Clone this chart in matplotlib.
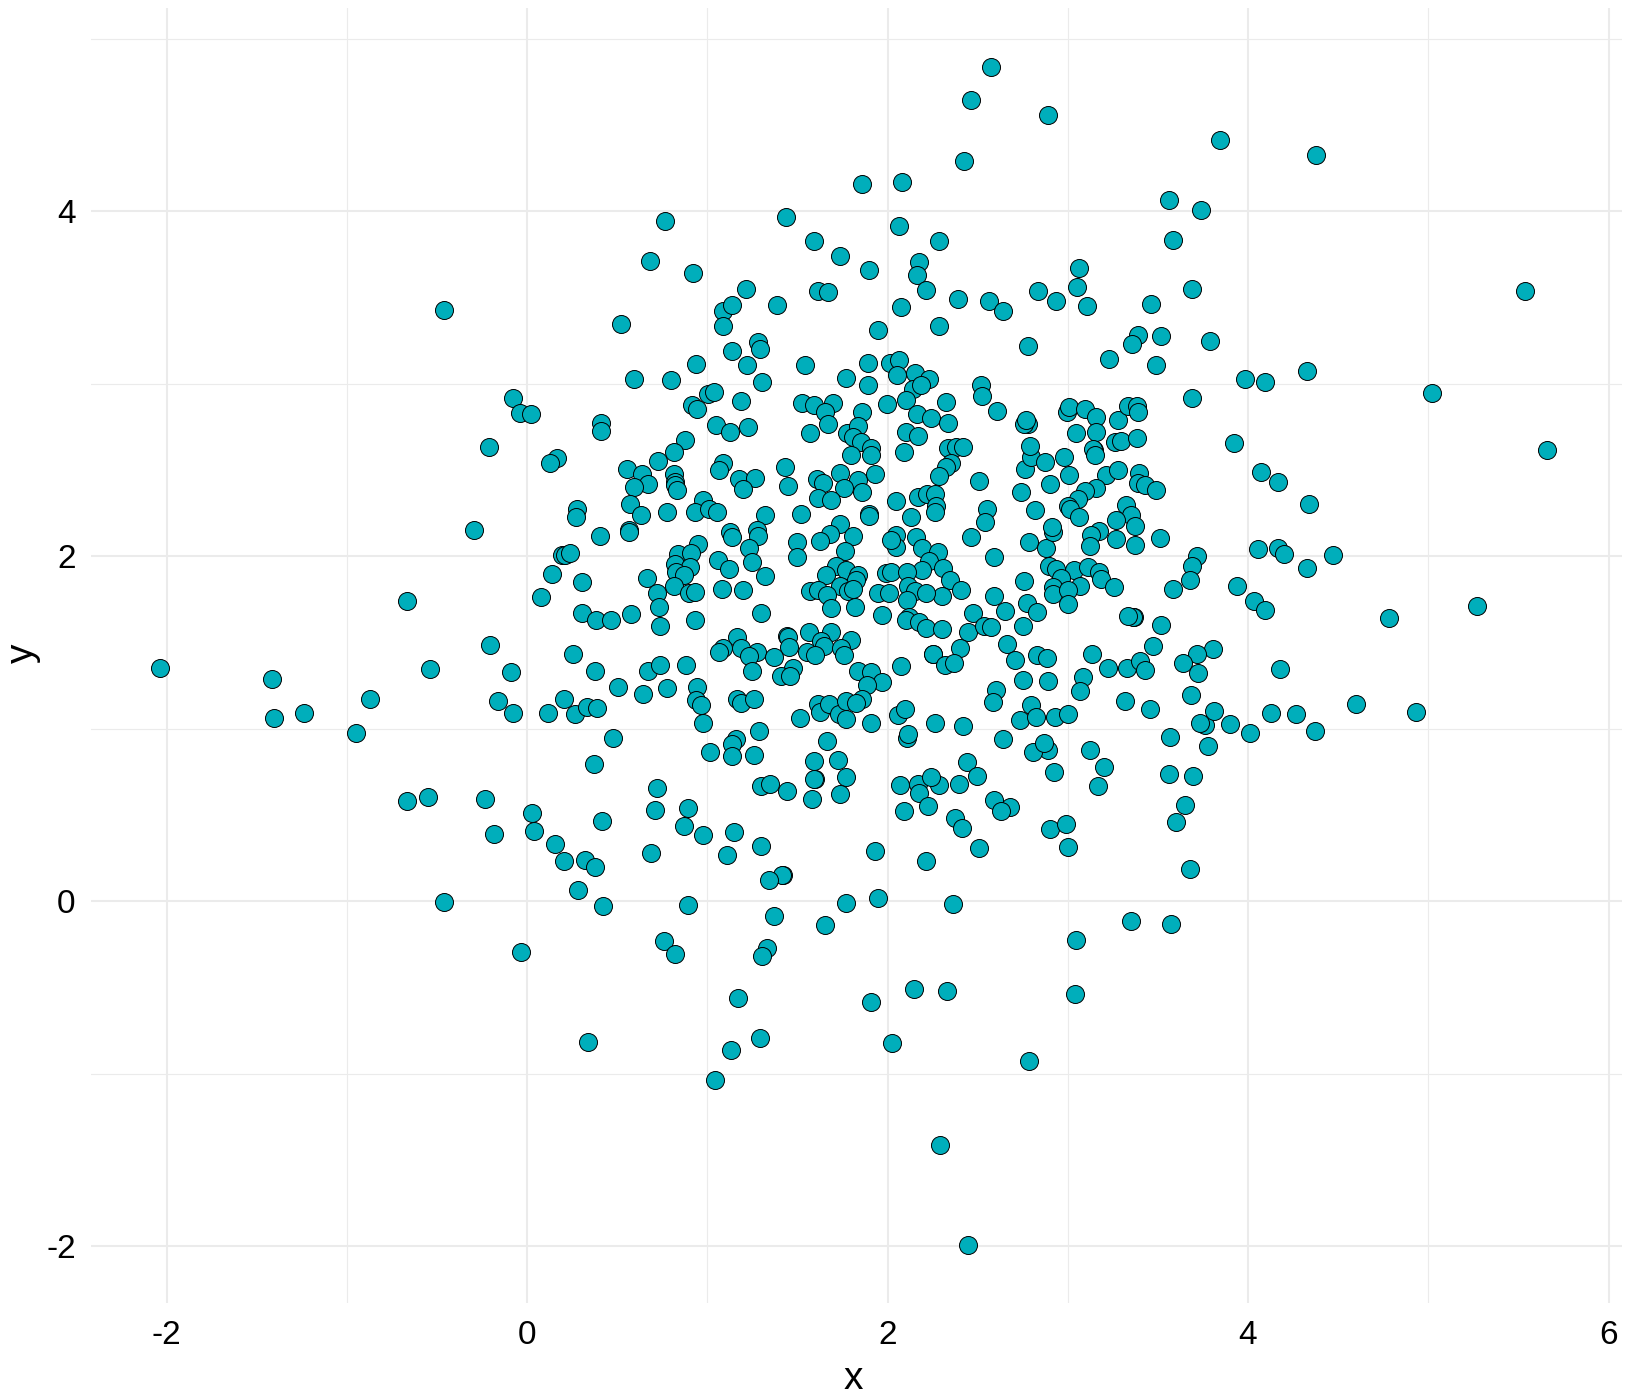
import matplotlib
matplotlib.use("Agg")
import matplotlib.pyplot as plt

# values, row by row in the same order for both lists
x_values = [
    0.52, 1.085, 1.135, 1.085, 1.385, 1.945, 1.28, 1.295, 1.14, 1.22,
    0.935, 1.545, 1.89, 2.015, 2.065, 0.595, 0.80, 1.305, 1.77, 1.89,
    2.055, -0.08, -0.04, 0.02, 1.005, 1.04, 0.915, 0.945, 1.185, 1.525,
    1.59, 1.695, 1.655, 1.86, 1.995, 0.41, 0.41, 1.05, 1.125, 1.225,
    1.67, 1.57, 1.775, 1.835, 1.81, 1.855, 1.91, 1.80, 1.91, 0.875,
    0.815, 0.725, 0.165, 0.13, 0.553, 0.638, 0.67, 0.595, 0.813, 0.82,
    0.822, 0.832, 1.085, 1.067, 1.177, 1.264, 1.20, 1.434, 1.45, 1.61,
    1.64, 1.734, 1.834, 1.933, 1.76, 1.858, 1.615, 1.684, 2.046, 0.57,
    0.63, 0.775, 0.275, 0.27, 0.974, 0.93, 1.01, 1.052, 1.323, 1.518,
    1.895, 1.90, 1.275, 1.28, 1.124, 1.135, 1.23, 0.564, 0.564, 0.403,
    1.734, 1.682, 1.628, 1.808, 1.762, 2.046, 2.046, 1.50, 1.50, 0.192,
    0.212, 0.237, 0.946, 0.84, 0.908, 0.819, 0.906, 0.826, 0.872, 1.057,
    1.118, 1.246, 1.323, 0.137, 0.303, 0.08, 0.664, 0.813, 0.719, 0.73,
    0.90, 0.932, 1.08, 1.20, 0.303, 0.384, 0.464, 0.575, 0.736, 0.93,
    1.30, 1.713, 1.657, 1.767, 1.834, 1.825, 1.736, 1.78, 1.811, 1.57,
    1.612, 1.667, 1.689, 1.817, 1.967, 1.95, 2.006, 1.99, 2.02, 1.44,
    1.45, 1.562, 1.684, 1.80, 1.63, 1.649, 1.455, 1.163, 1.09, 1.19,
    1.067, 1.275, 1.555, 1.60, 1.74, 0.253, 1.233, 1.368, 1.761, 1.246,
    1.475, 1.407, 1.457, 1.834, 1.906, 1.967, 1.885, -0.09, 0.375, 0.669,
    0.736, 0.88, 0.503, 0.641, 0.775, 0.941, 0.937, 0.963, 0.974, 0.205,
    -0.08, 0.115, 0.268, 0.331, 0.386, 1.163, 1.19, 1.26, 1.514, 1.617,
    1.627, 1.673, 1.732, 1.767, 1.769, 1.856, 1.823, 1.906, 1.285, 1.157,
    1.14, 1.14, 1.262, 1.013, 0.475, 0.37, 1.667, 1.595, 1.723, 1.60,
    1.595, 1.767, 1.734, 1.579, 1.30, 1.346, 1.44, 0.719, 0.708, 0.891,
    0.869, 0.974, 1.146, 1.296, 1.107, 0.026, 0.037, 0.414, 0.153, 0.203,
    0.323, 0.375, 0.686, 0.281, 0.42, 0.891, 1.93, 1.42, 1.412, 1.34,
    1.368, 1.651, 1.767, 1.95, 0.762, 0.819, 1.331, 1.301, -0.035, 2.074,
    2.283, 2.39, 2.565, 2.639, 2.933, 3.106, 3.461, 2.778, 3.389, 3.356,
    3.517, 3.789, 3.228, 3.489, 2.153, 2.228, 2.144, 2.185, 2.102, 2.163,
    2.239, 2.322, 2.333, 2.517, 2.522, 2.606, 2.102, 2.167, 2.089, 2.335,
    2.38, 2.417, 2.35, 2.324, 2.283, 2.506, 2.167, 2.219, 2.265, 2.269,
    2.263, 2.133, 2.55, 2.539, 2.461, 2.02, 2.157, 2.189, 2.278, 2.228,
    2.189, 2.306, 2.346, 2.406, 2.30, 2.106, 2.111, 2.152, 2.213, 2.106,
    2.117, 2.102, 2.172, 2.211, 2.302, 2.589, 2.474, 2.65, 2.774, 2.828,
    2.75, 2.444, 2.533, 2.574, 2.25, 2.589, 2.756, 2.783, 2.878, 2.917,
    2.911, 2.817, 2.739, 2.90, 2.765, 2.798, 2.789, 2.872, 2.978, 3.006,
    2.78, 2.756, 2.769, 2.994, 3.006, 3.094, 3.157, 3.044, 3.156, 3.146,
    3.139, 3.152, 3.278, 3.333, 3.383, 3.389, 3.261, 3.294, 3.383, 3.689,
    3.985, 4.094, 3.922, 4.072, 4.167, 3.213, 3.278, 3.394, 3.389, 3.43,
    3.491, 3.154, 3.094, 3.059, 3.0, 3.011, 3.061, 3.322, 3.35, 3.265,
    3.372, 3.176, 3.13, 3.122, 3.267, 3.372, 3.511, 3.717, 3.689, 3.678,
    3.583, 4.056, 4.167, 3.939, 4.033, 4.096, 2.894, 2.935, 3.033,
    3.111, 3.172, 3.183, 3.256, 2.961, 3.067, 2.917, 2.917, 3.0, 3.0,
    3.37, 3.361, 3.333, 3.517, 2.074, 2.25, 2.40, 2.32, 2.367, 2.661,
    2.706, 2.83, 2.885, 3.133, 3.472, 3.806, 3.717, 3.639, 3.722, 3.222,
    3.328, 3.4, 3.43, 3.083, 3.067, 2.75, 2.889, 2.6, 2.583, 2.796,
    2.733, 2.822, 2.928, 3.004, 3.317, 3.456, 3.683, 3.759, 3.811, 3.735,
    3.9, 4.011, 4.128, 4.176, 2.056, 2.096, 2.261, 2.417, 2.106, 2.111,
    2.639, 2.889, 2.809, 2.867, 3.122, 3.2, 2.922, 3.167, 3.567, 3.778,
    3.561, 3.694, 3.65, 3.6, 3.678, 2.439, 2.494, 2.394, 2.072, 2.167,
    2.283, 2.244, 2.172, 2.222, 2.089, 2.372, 2.411, 2.681, 2.593, 2.628,
    2.506, 2.904, 2.989, 3.0, 2.211, 2.361, 3.35, 3.572, 3.044, 2.148,
    2.331, 3.039, 2.576, 2.461, 2.893, 3.844, 4.375, 2.427, 1.856, 2.081,
    3.562, 3.74, 1.435, 0.767, 2.063, 3.585, 2.288, 1.591, 1.735, 0.68,
    2.173, 1.896, 0.922, 2.161, 3.06, 3.049, 1.216, 1.614, 1.671, 2.213,
    2.836, 3.689, 5.539, -0.461, 4.329, 5.02, 5.66, 4.34, 4.473, 4.329,
    4.202, 4.784, 5.268, 4.6, 4.934, 4.265, 4.369, -2.035, -1.412,
    -1.401, -1.239, -0.951, -0.87, -0.663, -0.536, -0.663, -0.548, -0.294, -0.213,
    -0.207, -0.161, -0.231, -0.184, -0.461, 0.34, 1.17, 1.13,
    1.291, 1.043, 1.908, 2.023, 2.784, 2.294, 2.444,
]
y_values = [
    3.35, 3.42, 3.46, 3.335, 3.455, 3.31, 3.24, 3.20, 3.19, 3.11,
    3.115, 3.11, 3.12, 3.12, 3.14, 3.03, 3.02, 3.01, 3.035, 2.995,
    3.05, 2.92, 2.83, 2.825, 2.94, 2.95, 2.88, 2.856, 2.90, 2.89,
    2.88, 2.89, 2.835, 2.835, 2.883, 2.773, 2.728, 2.76, 2.72, 2.75,
    2.77, 2.715, 2.715, 2.755, 2.69, 2.66, 2.627, 2.59, 2.586, 2.673,
    2.604, 2.55, 2.57, 2.543, 2.505, 2.475, 2.417, 2.40, 2.48, 2.433,
    2.413, 2.382, 2.54, 2.503, 2.448, 2.454, 2.39, 2.518, 2.406, 2.446,
    2.427, 2.481, 2.444, 2.475, 2.394, 2.374, 2.336, 2.324, 2.32, 2.303,
    2.24, 2.254, 2.272, 2.229, 2.326, 2.254, 2.277, 2.254, 2.237, 2.243,
    2.248, 2.231, 2.151, 2.116, 2.138, 2.112, 2.05, 2.155, 2.143, 2.12,
    2.19, 2.128, 2.091, 2.12, 2.033, 2.126, 2.054, 2.08, 1.998, 2.01,
    2.006, 2.021, 2.073, 2.015, 2.021, 1.957, 1.938, 1.908, 1.89, 1.978,
    1.928, 1.969, 1.887, 1.90, 1.852, 1.765, 1.875, 1.827, 1.788, 1.707,
    1.788, 1.794, 1.811, 1.806, 1.672, 1.631, 1.631, 1.666, 1.596, 1.631,
    1.672, 1.943, 1.893, 1.918, 1.89, 1.864, 1.827, 1.80, 1.811, 1.80,
    1.802, 1.773, 1.70, 1.707, 1.66, 1.788, 1.786, 1.905, 1.908, 1.54,
    1.534, 1.563, 1.559, 1.516, 1.51, 1.48, 1.472, 1.53, 1.47, 1.47,
    1.443, 1.443, 1.443, 1.43, 1.47, 1.433, 1.419, 1.417, 1.427, 1.332,
    1.351, 1.306, 1.304, 1.336, 1.33, 1.27, 1.254, 1.328, 1.337, 1.337,
    1.367, 1.367, 1.244, 1.20, 1.238, 1.24, 1.165, 1.136, 1.035, 1.17,
    1.093, 1.091, 1.087, 1.126, 1.122, 1.174, 1.151, 1.174, 1.064, 1.141,
    1.097, 1.141, 1.083, 1.054, 1.161, 1.17, 1.151, 1.035, 0.988, 0.943,
    0.914, 0.842, 0.846, 0.866, 0.947, 0.796, 0.93, 0.815, 0.819, 0.708,
    0.708, 0.72, 0.621, 0.592, 0.667, 0.679, 0.638, 0.656, 0.528, 0.539,
    0.435, 0.382, 0.40, 0.318, 0.266, 0.51, 0.405, 0.464, 0.33, 0.23,
    0.238, 0.20, 0.277, 0.062, -0.026, -0.02, 0.29, 0.149, 0.151, 0.12,
    -0.084, -0.136, -0.008, 0.017, -0.23, -0.305, -0.272, -0.317, -0.294, 3.448,
    3.338, 3.49, 3.48, 3.425, 3.48, 3.452, 3.464, 3.221, 3.281, 3.233,
    3.279, 3.25, 3.145, 3.112, 3.064, 3.029, 2.971, 2.996, 2.906, 2.825,
    2.804, 2.895, 2.772, 2.996, 2.928, 2.844, 2.722, 2.697, 2.604, 2.627,
    2.633, 2.633, 2.543, 2.52, 2.464, 2.435, 2.343, 2.359, 2.359, 2.293,
    2.254, 2.225, 2.272, 2.196, 2.114, 2.097, 2.114, 2.05, 2.027, 1.974,
    1.922, 1.934, 1.864, 1.806, 1.771, 1.91, 1.827, 1.80, 1.788, 1.747,
    1.646, 1.631, 1.617, 1.584, 1.578, 1.771, 1.672, 1.683, 1.73, 1.677,
    1.596, 1.561, 1.596, 1.59, 1.431, 1.998, 1.858, 2.085, 2.05, 2.142,
    2.167, 2.266, 2.371, 2.417, 2.505, 2.574, 2.64, 2.545, 2.574, 2.47,
    2.767, 2.767, 2.788, 2.837, 2.866, 2.854, 2.808, 2.714, 2.72, 2.617,
    2.623, 2.588, 2.79, 2.87, 2.873, 2.839, 2.662, 2.668, 2.685, 2.918,
    3.029, 3.011, 2.656, 2.487, 2.433, 2.472, 2.501, 2.481, 2.427, 2.411,
    2.386, 2.394, 2.376, 2.33, 2.291, 2.277, 2.225, 2.295, 2.242, 2.213,
    2.178, 2.149, 2.126, 2.062, 2.103, 2.068, 2.108, 2.004, 1.943, 1.864,
    1.811, 2.044, 2.05, 1.829, 1.741, 1.689, 1.945, 1.928, 1.918,
    1.94, 1.91, 1.87, 1.823, 1.875, 1.829, 1.821, 1.782, 1.802, 1.724,
    1.646, 1.646, 1.656, 1.602, 1.361, 1.431, 1.471, 1.369, 1.38, 1.491,
    1.396, 1.427, 1.413, 1.436, 1.477, 1.462, 1.435, 1.38, 1.322, 1.355,
    1.355, 1.39, 1.341, 1.299, 1.219, 1.283, 1.279, 1.225, 1.157, 1.137,
    1.052, 1.07, 1.07, 1.087, 1.163, 1.116, 1.198, 1.02, 1.10, 1.035,
    1.029, 0.978, 1.093, 1.345, 1.077, 1.116, 1.035, 1.017, 0.947, 0.967,
    0.941, 0.879, 0.866, 0.918, 0.877, 0.78, 0.749, 0.668, 0.953, 0.901,
    0.737, 0.726, 0.559, 0.458, 0.184, 0.807, 0.726, 0.679, 0.673, 0.679,
    0.673, 0.72, 0.627, 0.551, 0.522, 0.485, 0.423, 0.545, 0.586, 0.522,
    0.306, 0.417, 0.446, 0.312, 0.231, -0.014, -0.113, -0.13, -0.224, -0.509,
    -0.519, -0.538, 4.837, 4.645, 4.56, 4.416, 4.325, 4.295, 4.157, 4.169,
    4.066, 4.006, 3.97, 3.946, 3.916, 3.837, 3.831, 3.831, 3.741, 3.711,
    3.705, 3.663, 3.645, 3.633, 3.669, 3.56, 3.548, 3.536, 3.53, 3.542,
    3.536, 3.548, 3.536, 3.428, 3.072, 2.946, 2.614, 2.301, 2.006, 1.934,
    2.012, 1.645, 1.711, 1.145, 1.096, 1.084, 0.988, 1.355, 1.289,
    1.06, 1.09, 0.976, 1.175, 1.741, 1.349, 0.578, 0.602, 2.151, 2.633,
    1.488, 1.163, 0.59, 0.392, -0.006, -0.819, -0.56, -0.861,
    -0.795, -1.036, -0.584, -0.825, -0.928, -1.416, -1.994,
]

x_major = [-2, 0, 2, 4, 6]
y_major = [-2, 0, 2, 4]
x_minor = [-1, 1, 3, 5]
y_minor = [-1, 1, 3, 5]

W, H = 1630, 1400
LEFT, RIGHT, TOP, BOTTOM = 91, 1622, 8, 1303

plt.rcParams["font.family"] = ["Liberation Sans", "DejaVu Sans"]

fig = plt.figure(figsize=(W / 100, H / 100), dpi=100)
ax = fig.add_axes([LEFT / W, 1 - BOTTOM / H, (RIGHT - LEFT) / W, (BOTTOM - TOP) / H])

ax.scatter(x_values, y_values, s=168, color="#00AEBB", edgecolor="black", linewidth=0.7, zorder=3)

# x: 180.25 px per unit, y: 172.5 px per unit
ax.set_xlim((LEFT - 527.0) / 180.25, (RIGHT - 527.0) / 180.25)
ax.set_ylim((901 - BOTTOM) / 172.5, (901.5 - TOP) / 172.5)

ax.set_xticks(x_major)
ax.set_yticks(y_major)
ax.set_xticks(x_minor, minor=True)
ax.set_yticks(y_minor, minor=True)
ax.set_xticklabels(["-2", "0", "2", "4", "6"])
ax.set_yticklabels(["-2", "0", "2", "4"])
ax.tick_params(which="both", length=0)
ax.tick_params(axis="x", labelsize=24, pad=12)
ax.tick_params(axis="y", labelsize=24, pad=11)

ax.grid(which="major", color="#EBEBEB", linewidth=1.5)
ax.grid(which="minor", color="#EBEBEB", linewidth=0.8)
ax.set_axisbelow(True)
for spine in ax.spines.values():
    spine.set_visible(False)

fig.text(853 / W, 1 - 1379 / H, "x", fontsize=28, ha="center", va="center")
fig.text(23 / W, 1 - 653 / H, "y", fontsize=28, ha="center", va="center", rotation=90)

fig.savefig("out.png", dpi=100)
